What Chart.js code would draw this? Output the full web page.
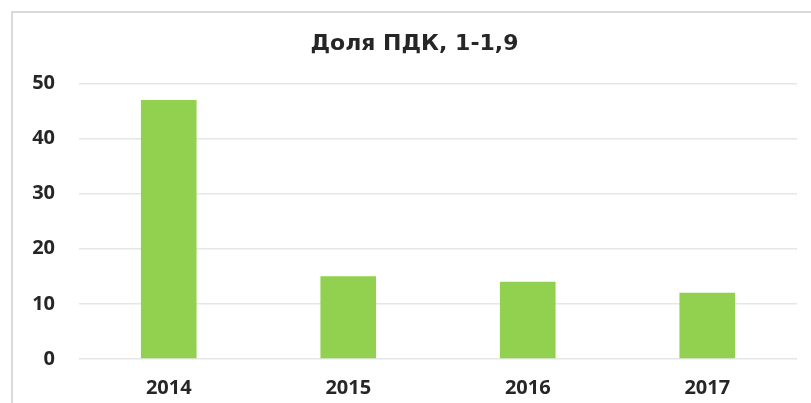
<!DOCTYPE html>
<html>
<head>
<meta charset="utf-8">
<script src="https://cdn.jsdelivr.net/npm/chart.js@4/dist/chart.umd.min.js"></script>
<style>
    html, body { margin: 0; padding: 0; background: #fff; overflow: hidden; }
    #frame {
        position: absolute; left: 11px; top: 11px; width: 850px; height: 450px;
        border-left: 2px solid #d9d9d9; border-top: 2px solid #d9d9d9;
    }
    #mainChart { position: absolute; left: 0; top: 0; }
</style>
</head>
<body>
<div id="frame"></div>
<canvas id="mainChart" width="811" height="403"></canvas>
<script>
// Chart data
const years = ["2014", "2015", "2016", "2017"];
const shareValues = [47, 15, 14, 12];
const yTicks = [0, 10, 20, 30, 40, 50];

const ctx = document.getElementById("mainChart").getContext("2d");

new Chart(ctx, {
    type: "bar",
    data: {
        labels: years,
        datasets: [{
            label: "Доля ПДК, 1-1,9",
            data: shareValues,
            backgroundColor: "#92D050",
            borderWidth: 0,
            categoryPercentage: 1,
            barPercentage: 0.31
        }]
    },
    options: {
        responsive: false,
        animation: false,
        layout: {
            // left padding shifts the title a bit to the right, like the original
            padding: { top: 31, right: 14, bottom: 0, left: 32 }
        },
        plugins: {
            legend: { display: false },
            tooltip: { enabled: false },
            title: {
                display: true,
                text: "Доля ПДК, 1-1,9",
                color: "#262626",
                font: { family: "'DejaVu Sans'", size: 22, weight: "bold" },
                padding: { top: 0, bottom: 26 }
            }
        },
        scales: {
            x: {
                grid: { display: false },
                border: { display: false },
                ticks: {
                    color: "#262626",
                    padding: 9,
                    font: { family: "'Open Sans'", size: 20, weight: "bold" }
                },
                afterFit: (scale) => { scale.height = 44; }
            },
            y: {
                min: yTicks[0],
                max: yTicks[yTicks.length - 1],
                afterBuildTicks: (scale) => {
                    scale.ticks = yTicks.map(v => ({ value: v }));
                },
                grid: { color: "#e6e6e6", lineWidth: 1.5, drawTicks: false },
                border: { display: false },
                ticks: {
                    color: "#262626",
                    padding: 24,
                    font: { family: "'Open Sans'", size: 20, weight: "bold" }
                },
                afterFit: (scale) => { scale.width = 47; }
            }
        }
    }
});
</script>
</body>
</html>
